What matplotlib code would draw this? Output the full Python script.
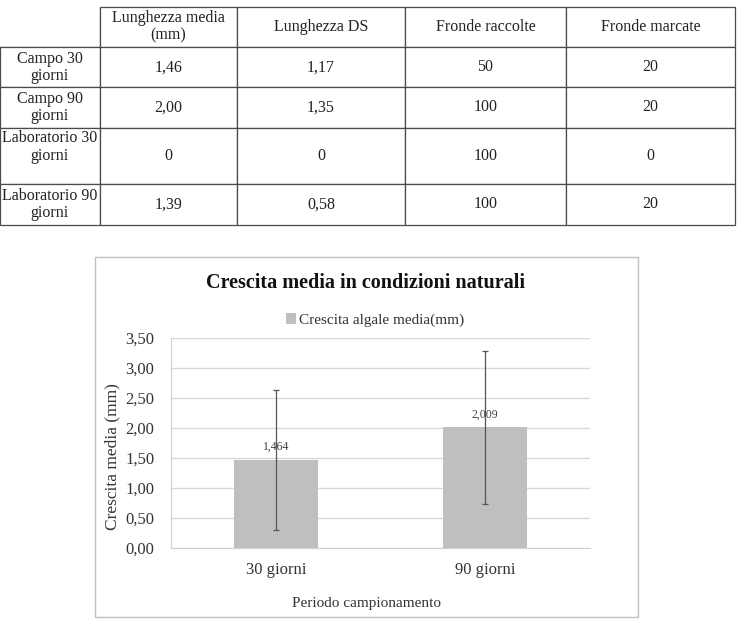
import matplotlib
matplotlib.use("Agg")
import matplotlib.pyplot as plt
from matplotlib.patches import Rectangle
from matplotlib.ticker import FuncFormatter, MultipleLocator
import numpy as np

plt.rcParams['font.family'] = ['Liberation Serif', 'DejaVu Serif']

# --- table data ---
col_headers = ['Lunghezza media\n(mm)', 'Lunghezza DS', 'Fronde raccolte', 'Fronde marcate']
row_labels = ['Campo 30\ngiorni', 'Campo 90\ngiorni', 'Laboratorio 30\ngiorni\n', 'Laboratorio 90\ngiorni']
lunghezza_media = ['1,46', '2,00', '0', '1,39']
lunghezza_ds = ['1,17', '1,35', '0', '0,58']
fronde_raccolte = ['50', '100', '100', '100']
fronde_marcate = ['20', '20', '0', '20']

# --- chart data ---
periodi = ['30 giorni', '90 giorni']
crescita = [1.464, 2.009]
errore = [1.17, 1.27]
serie = 'Crescita algale media(mm)'

W, H = 740, 622


def fx(px):
    return px / W


def fy(py):
    return 1 - py / H


def virgola(v, dec):
    return f"{v:.{dec}f}".replace('.', ',')


fig = plt.figure(figsize=(W / 100, H / 100), dpi=100)

# ---------------- table ----------------
axt = fig.add_axes([0, fy(225), fx(735), (225 - 7) / H])
axt.axis('off')

rows = [[''] + col_headers]
for i, lab in enumerate(row_labels):
    rows.append([lab, lunghezza_media[i], lunghezza_ds[i], fronde_raccolte[i], fronde_marcate[i]])

col_w = [100, 137, 168, 161, 169]
row_h = [40, 40, 40, 56, 41]

tab = axt.table(cellText=rows, cellLoc='center', bbox=[0, 0, 1, 1])
tab.auto_set_font_size(False)
tab.set_fontsize(11.5)
for (r, c), cell in tab.get_celld().items():
    cell.set_width(col_w[c])
    cell.set_height(row_h[r])
    cell.set_edgecolor('#4a4a4a')
    cell.set_linewidth(0.9)
    cell.get_text().set_color('#222222')
    cell.get_text().set_linespacing(1.1)
    cell.PAD = 0.01
    if r == 0 and c == 0:
        cell.visible_edges = 'BR'

# ---------------- chart ----------------
fig.add_artist(Rectangle((fx(95), fy(617)), fx(638 - 95), (617 - 257) / H,
                         transform=fig.transFigure, fill=False,
                         ec='#c0c0c0', lw=1))

ax = fig.add_axes([fx(171), fy(548), fx(590 - 171), (548 - 338) / H])
x = np.arange(len(periodi))
bars = ax.bar(x, crescita, width=0.4, color='#bfbfbf', label=serie, zorder=2)
ax.errorbar(x, crescita, yerr=errore, fmt='none', ecolor='#555555',
            elinewidth=0.9, capsize=2.5, capthick=0.9, zorder=4)
for xi, v in zip(x, crescita):
    ax.annotate(virgola(v, 3), (xi, v), xytext=(0, 5), textcoords='offset points',
                ha='center', va='bottom', fontsize=8.5, color='#404040', zorder=3)

ax.set_xlim(-0.5, len(periodi) - 0.5)
ax.set_ylim(0, 3.5)
ax.yaxis.set_major_locator(MultipleLocator(0.5))
ax.yaxis.set_major_formatter(FuncFormatter(lambda v, p: virgola(v, 2)))
ax.set_xticks(x)
ax.set_xticklabels(periodi)
ax.tick_params(axis='both', length=0, labelsize=12, colors='#333333')
ax.tick_params(axis='x', pad=10)
ax.tick_params(axis='y', pad=12)
ax.grid(axis='y', color='#d9d9d9', lw=1, zorder=0)
ax.set_axisbelow(True)
for s in ['top', 'right']:
    ax.spines[s].set_visible(False)
for s in ['left', 'bottom']:
    ax.spines[s].set_color('#d0d0d0')

ax.legend(loc='center', bbox_to_anchor=(fx(375), fy(320)), bbox_transform=fig.transFigure,
          frameon=False, fontsize=11, handlelength=0.7, handleheight=0.7,
          handletextpad=0.2, labelcolor='#333333')

fig.text(fx(366), fy(283), 'Crescita media in condizioni naturali', ha='center',
         va='center', fontsize=14.5, fontweight='bold', color='#111111')
fig.text(fx(112), fy(457), 'Crescita media (mm)', rotation=90, ha='center',
         va='center', fontsize=12.5, color='#333333')
fig.text(fx(366), fy(604), 'Periodo campionamento', ha='center', va='center',
         fontsize=11, color='#333333')

fig.savefig('out.png', dpi=100)
